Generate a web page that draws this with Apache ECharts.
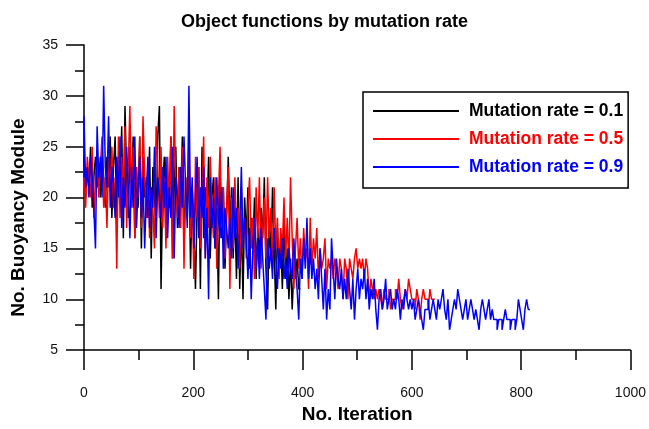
<!DOCTYPE html>
<html>
<head>
<meta charset="utf-8">
<script src="https://cdn.jsdelivr.net/npm/echarts/dist/echarts.min.js"></script>
<style>html,body{margin:0;padding:0;background:#fff;}#chart{width:649px;height:429px;}</style>
</head>
<body>
<div id="chart"></div>
<script>
// Iteration spacing between stored samples
const STEP = 3;
const seriesNames = ['Mutation rate = 0.1', 'Mutation rate = 0.5', 'Mutation rate = 0.9'];
const xTicks = [0, 200, 400, 600, 800, 1000];
const yTicks = [5, 10, 15, 20, 25, 30, 35];

const rate01 = [
22,24,20,23,21,25,19,22,24,21,
23,20,25,22,19,24,21,26,18,23,
26,17,24,20,27,16,29,22,18,25,
21,26,16,23,19,26,15,24,20,22,
18,25,14,23,20,17,26,29,11,21,
24,16,22,19,26,14,21,25,17,23,
20,26,15,22,18,24,13,21,17,11,
19,23,11,25,16,21,18,24,14,20,
22,15,19,10,23,16,21,13,18,24,
17,21,14,19,12,22,11,18,10,20,
16,21,13,18,15,20,12,17,14,19,
16,22,13,9,18,14,21,15,9,17,
13,16,11,18,12,15,10,14,9,13,
12,14,11
];
const rate05 = [
21,23,19,24,22,20,25,18,22,24,
20,23,26,19,22,17,24,21,25,19,
22,13,26,18,24,20,27,17,23,29,
19,25,16,23,20,26,17,28,22,18,
24,16,21,19,15,27,23,18,25,17,
22,15,24,19,26,14,29,21,18,23,
17,25,13,22,19,26,16,21,12,24,
18,23,15,20,26,14,22,17,24,19,
16,22,13,20,25,17,21,14,19,23,
11,20,15,22,17,19,13,21,16,18,
14,19,22,15,18,12,21,16,22,13,
17,20,14,22,16,19,13,21,15,18,
12,17,15,20,14,18,13,22,16,11,
15,18,13,16,12,17,14,15,11,18,
13,16,14,17,12,15,13,14,16,11,
14,13,14,12,14,13,11,14,13,10,
14,13,10,14,13,12,14,15,13,14,
13,14,12,14,13,10,12,11,10,11,
10,11,10,9,11,10,10,11,9,10,
10,11,10,12,10,9,10,11,10,12,
11,10,10,9,11,10,8,10,11,10,
10,9,11,10,10
];
const rate09 = [
22,28,21,23,20,24,22,19,15,27,
22,24,20,31,23,21,28,19,23,21,
18,24,20,26,17,22,19,25,21,16,
23,19,26,17,21,24,18,22,15,20,
24,17,21,19,25,16,22,20,18,23,
19,24,16,21,18,25,14,22,20,17,
23,19,26,21,17,31,18,22,15,20,
24,16,21,18,23,14,19,10,22,17,
20,15,22,18,16,21,13,19,17,15,
18,14,21,16,19,13,17,23,15,18,
16,12,17,10,15,18,13,16,12,17,
14,11,8,16,13,15,12,17,14,11,
15,13,16,12,14,11,15,13,12,16,
13,11,8,14,12,16,13,18,12,15,
12,14,11,13,10,15,12,9,13,8,
11,9,16,13,10,14,12,11,13,10,
12,10,13,11,9,12,8,11,13,10,
12,11,13,10,12,9,11,10,12,9,
7,10,11,9,10,12,9,10,11,9,
10,9,11,10,8,10,9,11,10,9,
10,9,10,8,9,10,9,8,7,9,
9,10,8,9,10,9,8,10,9,10,
11,9,8,10,7,8,9,10,9,11,
10,9,8,9,10,8,9,10,9,8,
9,8,7,9,10,9,8,9,10,8,
9,8,8,7,8,8,7,8,9,8,
8,7,8,8,7,8,10,9,8,7,
9,10,9
];
const seriesColors = ['#000000', '#ff0000', '#0000ff'];

const FONT = "'Liberation Sans', Arial, sans-serif";
const toPairs = arr => arr.map((v, i) => [i * STEP, v]);
const allValues = [rate01, rate05, rate09];

const chart = echarts.init(document.getElementById('chart'), null, {renderer: 'canvas'});
chart.setOption({
  animation: false,
  backgroundColor: '#ffffff',
  title: {
    text: 'Object functions by mutation rate',
    left: 'center', top: 8,
    textStyle: {fontFamily: FONT, fontSize: 18, fontWeight: 'bold', color: '#000'}
  },
  grid: {left: 84, right: 13, top: 45, bottom: 73, containLabel: false},
  legend: {
    orient: 'vertical',
    left: 363, top: 92,
    padding: [9, 5, 11, 10],
    itemGap: 8,
    icon: 'rect',
    itemWidth: 86, itemHeight: 2,
    borderColor: '#000', borderWidth: 1.5, backgroundColor: '#fff',
    textStyle: {fontFamily: FONT, fontSize: 17.5, fontWeight: 'bold', lineHeight: 20, padding: [0, 0, 0, 5]},
    data: seriesNames.map((n, i) => ({name: n, textStyle: {color: seriesColors[i]}}))
  },
  xAxis: {
    type: 'value', min: xTicks[0], max: xTicks[xTicks.length - 1], interval: 200,
    name: 'No. Iteration', nameLocation: 'middle', nameGap: 54,
    nameTextStyle: {fontFamily: FONT, fontSize: 19, fontWeight: 'bold', color: '#000'},
    axisLine: {show: true, lineStyle: {color: '#000', width: 1.5}},
    axisTick: {show: true, inside: false, length: 20, lineStyle: {color: '#000', width: 1.5}},
    minorTick: {show: true, splitNumber: 2, length: 10, lineStyle: {color: '#000', width: 1.5}},
    splitLine: {show: false},
    axisLabel: {margin: 36, fontFamily: FONT, fontSize: 14, color: '#111', formatter: v => String(v)}
  },
  yAxis: {
    type: 'value', min: yTicks[0], max: yTicks[yTicks.length - 1], interval: 5,
    name: 'No. Buoyancy Module', nameLocation: 'middle', nameGap: 56, nameRotate: 90,
    nameTextStyle: {fontFamily: FONT, fontSize: 19, fontWeight: 'bold', color: '#000', padding: [0, 40, 0, 0]},
    axisLine: {show: true, lineStyle: {color: '#000', width: 1.5}},
    axisTick: {show: true, inside: false, length: 18, lineStyle: {color: '#000', width: 1.5}},
    minorTick: {show: true, splitNumber: 2, length: 9, lineStyle: {color: '#000', width: 1.5}},
    splitLine: {show: false},
    axisLabel: {margin: 26, fontFamily: FONT, fontSize: 14, color: '#111', formatter: v => String(v)}
  },
  series: seriesNames.map((n, i) => ({
    name: n, type: 'line', step: 'start', symbol: 'none', showSymbol: false,
    data: toPairs(allValues[i]),
    lineStyle: {color: seriesColors[i], width: 1.5},
    itemStyle: {color: seriesColors[i]}
  }))
});
</script>
</body>
</html>
